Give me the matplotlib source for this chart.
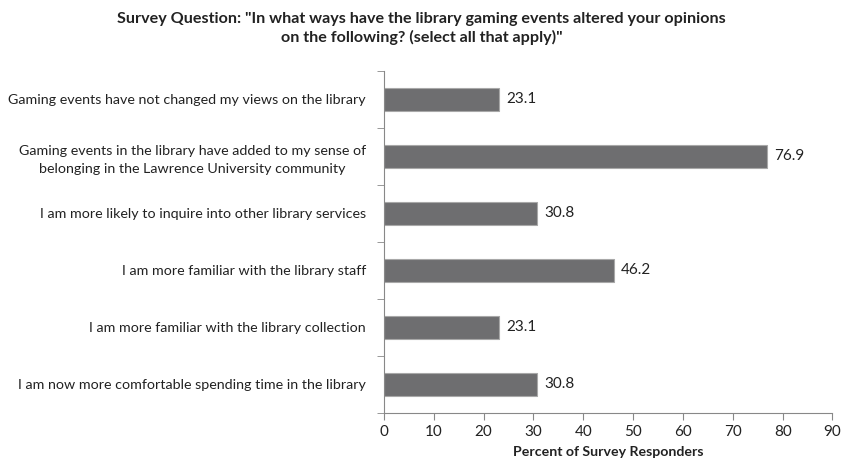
import matplotlib
matplotlib.use("Agg")
import matplotlib.pyplot as plt
import numpy as np

categories = [
    "Gaming events have not changed my views on the library",
    "Gaming events in the library have added to my sense of\nbelonging in the Lawrence University community",
    "I am more likely to inquire into other library services",
    "I am more familiar with the library staff",
    "I am more familiar with the library collection",
    "I am now more comfortable spending time in the library",
]
values = [23.1, 76.9, 30.8, 46.2, 23.1, 30.8]
xticks = [0, 10, 20, 30, 40, 50, 60, 70, 80, 90]

plt.rcParams['font.family'] = ['Lato', 'DejaVu Sans']

fig = plt.figure(figsize=(8.43, 4.63), dpi=100)
ax = fig.add_axes([0.4555, 0.108, 0.532, 0.739])
n = len(categories)
ypos = np.arange(n)[::-1]
ax.barh(ypos, values, height=0.4, color='#6e6e70', edgecolor='#a8a8a8', linewidth=0.8)
for y, v in zip(ypos, values):
    ax.text(v + 1.4, y, f"{v:.1f}", va='center', ha='left', fontsize=11, color='#222222')
ax.set_xlim(0, 90)
ax.set_ylim(-0.5, n - 0.5)
ax.set_xticks(xticks)
ax.set_xticklabels([str(t) for t in xticks], fontsize=11, color='#222222')
ax.set_yticks(ypos)
ax.set_yticklabels(categories, fontsize=10.3, color='#222222', ha='right', multialignment='center',
                   linespacing=1.55)
ax.tick_params(axis='y', length=0, pad=13)
ax.set_yticks(np.arange(-0.5, n, 1.0), minor=True)
ax.tick_params(axis='y', which='minor', length=5, color='#888888')
ax.tick_params(axis='x', length=5, color='#888888', direction='out', pad=4)
for s in ['top', 'right']:
    ax.spines[s].set_visible(False)
ax.spines['left'].set_color('#888888')
ax.spines['bottom'].set_color('#888888')
ax.set_xlabel("Percent of Survey Responders", fontsize=10.2, fontweight='bold', color='#222222', labelpad=5)
fig.text(0.5, 0.975, 'Survey Question: "In what ways have the library gaming events altered your opinions\non the following? (select all that apply)"',
         ha='center', va='top', fontsize=11.6, fontweight='bold', color='#222222', linespacing=1.4)
fig.savefig("out.png", dpi=100)
